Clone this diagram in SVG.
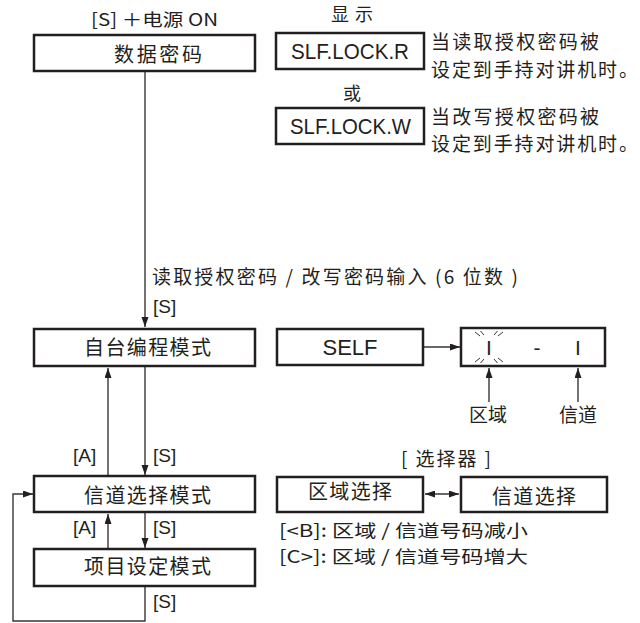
<svg xmlns="http://www.w3.org/2000/svg" width="640" height="623" viewBox="0 0 640 623">
<style>
.box{fill:#fff;stroke:#231f20;stroke-width:2.5}
.ln{fill:none;stroke:#3a3536;stroke-width:1.4}
.tk{fill:none;stroke:#3a3536;stroke-width:1}
.cj{font-family:"Noto Sans CJK SC","Noto Sans",sans-serif;fill:#231f20}
.la{font-family:"Liberation Sans",Arial,sans-serif;fill:#231f20}
.f17{font-size:17px}.f175{font-size:17.5px}.f18{font-size:18px}.f19{font-size:19px}.f20{font-size:20px}.f21{font-size:21px}.f22{font-size:22px}
.mid{text-anchor:middle}
</style>
<defs>
<marker id="ah" markerUnits="userSpaceOnUse" markerWidth="11" markerHeight="8" refX="10" refY="3.5" orient="auto">
<path d="M0,0 L10,3.5 L0,7 z" fill="#231f20"/>
</marker>
<marker id="ahs" markerUnits="userSpaceOnUse" markerWidth="11" markerHeight="8" refX="0" refY="3.5" orient="auto">
<path d="M10,0 L0,3.5 L10,7 z" fill="#231f20"/>
</marker>
</defs>
<rect width="640" height="623" fill="#fff"/>

<g id="connectors">
<line class="ln" x1="145" y1="72" x2="145" y2="327" marker-end="url(#ah)"/>
<line class="ln" x1="108" y1="475" x2="108" y2="368" marker-end="url(#ah)"/>
<line class="ln" x1="145" y1="367" x2="145" y2="475" marker-end="url(#ah)"/>
<line class="ln" x1="108" y1="548" x2="108" y2="514" marker-end="url(#ah)"/>
<line class="ln" x1="145" y1="513" x2="145" y2="548" marker-end="url(#ah)"/>
<polyline class="ln" points="145,587 145,621 13,621 13,494 33,494" marker-end="url(#ah)"/>
<line class="ln" x1="424" y1="347" x2="460" y2="347" marker-end="url(#ah)"/>
<line class="ln" x1="489" y1="402" x2="489" y2="368" marker-end="url(#ah)"/>
<line class="ln" x1="578" y1="402" x2="578" y2="368" marker-end="url(#ah)"/>
<line class="ln" x1="425" y1="494" x2="459" y2="494" marker-start="url(#ahs)" marker-end="url(#ah)"/>
</g>

<g id="title">
<text class="cj f17" x="91" y="26" textLength="127" lengthAdjust="spacingAndGlyphs">[S] ＋电源 ON</text>
</g>

<g id="node-data-password">
<rect class="box" x="34" y="35" width="221" height="36"/>
<text class="cj f20" x="114" y="61.5" textLength="88" lengthAdjust="spacing">数据密码</text>
</g>

<g id="label-display">
<text class="cj f18" x="331" y="21" textLength="42" lengthAdjust="spacing">显示</text>
</g>

<g id="node-lock-r">
<rect class="box" x="276" y="33" width="148" height="36"/>
<text class="la f22" x="291" y="59" textLength="118" lengthAdjust="spacingAndGlyphs">SLF.LOCK.R</text>
<text class="cj f19" x="431" y="49" textLength="168" lengthAdjust="spacing">当读取授权密码被</text>
<text class="cj f19" x="431" y="77" textLength="207" lengthAdjust="spacing">设定到手持对讲机时。</text>
</g>

<g id="label-or">
<text class="cj f18 mid" x="352" y="99.5">或</text>
</g>

<g id="node-lock-w">
<rect class="box" x="276" y="108" width="148" height="36"/>
<text class="la f22" x="290" y="134" textLength="121" lengthAdjust="spacingAndGlyphs">SLF.LOCK.W</text>
<text class="cj f19" x="431" y="124" textLength="168" lengthAdjust="spacing">当改写授权密码被</text>
<text class="cj f19" x="431" y="151" textLength="207" lengthAdjust="spacing">设定到手持对讲机时。</text>
</g>

<g id="label-input">
<text class="cj f19" x="152" y="283.5" textLength="366" lengthAdjust="spacing">读取授权密码 / 改写密码输入 (6 位数 )</text>
<text class="la f19" x="153" y="313">[S]</text>
</g>

<g id="node-self-program">
<rect class="box" x="34" y="329" width="221" height="37"/>
<text class="cj f20" x="84" y="355" textLength="127" lengthAdjust="spacing">自台编程模式</text>
</g>

<g id="node-self">
<rect class="box" x="277" y="329" width="146" height="36"/>
<text class="la f22 mid" x="350" y="355">SELF</text>
</g>

<g id="node-display">
<rect class="box" x="461" y="328" width="144" height="38"/>
<text class="la f21 mid" x="489" y="355">I</text>
<text class="la f21 mid" x="537" y="355">-</text>
<text class="la f21 mid" x="578" y="355">I</text>
<line class="tk" x1="475" y1="332" x2="480" y2="336"/>
<line class="tk" x1="480.5" y1="331" x2="484" y2="335"/>
<line class="tk" x1="494" y1="335" x2="497.5" y2="331"/>
<line class="tk" x1="498" y1="336" x2="503" y2="332"/>
<line class="tk" x1="475" y1="362" x2="480" y2="358"/>
<line class="tk" x1="480.5" y1="363" x2="484" y2="359"/>
<line class="tk" x1="494" y1="359" x2="497.5" y2="363"/>
<line class="tk" x1="498" y1="358" x2="503" y2="362"/>
<text class="cj f19 mid" x="488" y="421.5">区域</text>
<text class="cj f19 mid" x="578" y="421.5">信道</text>
</g>

<g id="labels-a-s-1">
<text class="la f19" x="73" y="462">[A]</text>
<text class="la f19" x="153" y="462">[S]</text>
</g>

<g id="node-channel-select-mode">
<rect class="box" x="34" y="476" width="221" height="36"/>
<text class="cj f20" x="84" y="503" textLength="127" lengthAdjust="spacing">信道选择模式</text>
</g>

<g id="label-selector">
<text class="cj f19" x="401" y="466" textLength="90" lengthAdjust="spacing">[ 选择器 ]</text>
</g>

<g id="node-zone-select">
<rect class="box" x="277" y="477" width="146" height="35"/>
<text class="cj f20" x="308" y="499" textLength="84" lengthAdjust="spacing">区域选择</text>
</g>

<g id="node-channel-select">
<rect class="box" x="461" y="477" width="146" height="35"/>
<text class="cj f20" x="492" y="504" textLength="84" lengthAdjust="spacing">信道选择</text>
</g>

<g id="label-keys">
<text class="cj f175" x="279" y="537.3" textLength="249" lengthAdjust="spacingAndGlyphs">[&lt;B]: 区域 / 信道号码减小</text>
<text class="cj f175" x="279" y="562.7" textLength="249" lengthAdjust="spacingAndGlyphs">[C&gt;]: 区域 / 信道号码增大</text>
</g>

<g id="labels-a-s-2">
<text class="la f19" x="73" y="534">[A]</text>
<text class="la f19" x="153" y="534">[S]</text>
</g>

<g id="node-item-setting">
<rect class="box" x="34" y="549" width="221" height="37"/>
<text class="cj f20" x="84" y="573.5" textLength="127" lengthAdjust="spacing">项目设定模式</text>
</g>

<g id="label-s-bottom">
<text class="la f19" x="153" y="608">[S]</text>
</g>
</svg>
